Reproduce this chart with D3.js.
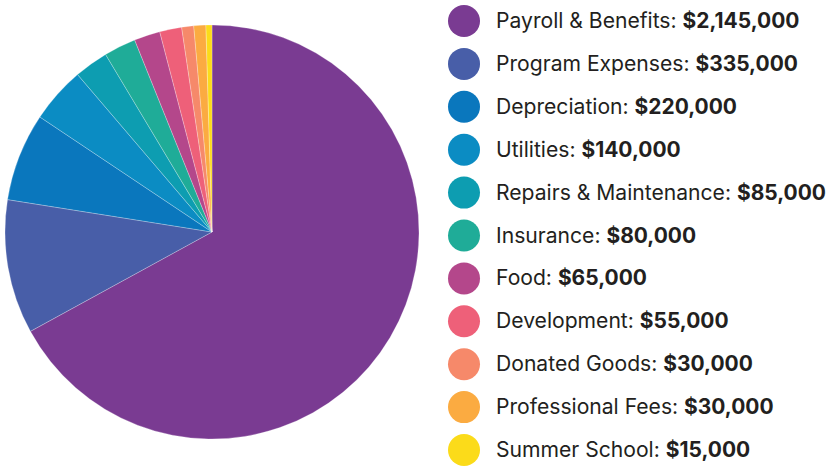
<!DOCTYPE html>
<html>
<head>
<meta charset="utf-8">
<script src="https://cdn.jsdelivr.net/npm/d3@7"></script>
<style>
  html, body { margin: 0; padding: 0; background: #fff; }
  svg { display: block; }
  .legend text { font-family: Inter, "Noto Sans", sans-serif; fill: #231f20; }
</style>
</head>
<body>
<div id="chart"></div>
<script>
// expense categories, in pie order (clockwise from 12 o'clock)
const categories = [
    "Payroll & Benefits", "Program Expenses", "Depreciation", "Utilities",
    "Repairs & Maintenance", "Insurance", "Food", "Development",
    "Donated Goods", "Professional Fees", "Summer School"
];
const amounts = [2145000, 335000, 220000, 140000, 85000, 80000, 65000, 55000, 30000, 30000, 15000];
const colors = [
    "#7a3b92", "#485ea8", "#0a77bd", "#0b8cc3", "#0d9db1", "#1fac98",
    "#b4478b", "#ee6079", "#f6896a", "#fbab41", "#fbdb1a"
];

const width = 828, height = 466;
const cx = 212, cy = 232, radius = 207;

const data = categories.map((c, i) => ({ name: c, value: amounts[i], color: colors[i] }));

const svg = d3.select("#chart").append("svg")
    .attr("width", width)
    .attr("height", height);

// pie, no sorting so the slices keep the list order
const pie = d3.pie().sort(null).value(d => d.value);
const arc = d3.arc().innerRadius(0).outerRadius(radius);

svg.append("g")
    .attr("transform", `translate(${cx},${cy})`)
    .selectAll("path")
    .data(pie(data))
    .enter().append("path")
    .attr("d", arc)
    .attr("fill", d => d.data.color)
    .attr("stroke", "#fff")
    .attr("stroke-width", 0.25);

// legend
const fmt = d3.format("$,");
const y = d3.scalePoint().domain(categories).range([21, 450]);

// size the two font weights so the row widths match the original
function fitSize(str, bold, target) {
    const t = svg.append("text")
        .attr("font-family", "Inter, 'Noto Sans', sans-serif")
        .attr("font-size", 20)
        .attr("font-weight", bold ? "bold" : "normal")
        .style("white-space", "pre")
        .text(str);
    const w = t.node().getComputedTextLength();
    t.remove();
    return 20 * target / w;
}
const regSize = fitSize("Repairs & Maintenance: ", false, 241);
const boldSize = fitSize("$2,145,000", true, 117);

const legend = svg.append("g")
    .attr("class", "legend")
    .selectAll("g")
    .data(data)
    .enter().append("g")
    .attr("transform", d => `translate(0,${y(d.name)})`);

legend.append("circle")
    .attr("cx", 464)
    .attr("cy", 0)
    .attr("r", 16)
    .attr("fill", d => d.color);

const label = legend.append("text")
    .attr("x", 496)
    .attr("y", 0)
    .attr("dy", "0.44em")
    .style("white-space", "pre");

label.append("tspan")
    .attr("font-size", regSize)
    .text(d => d.name + ": ");
label.append("tspan")
    .attr("font-size", boldSize)
    .attr("font-weight", "bold")
    .text(d => fmt(d.value));
</script>
</body>
</html>
